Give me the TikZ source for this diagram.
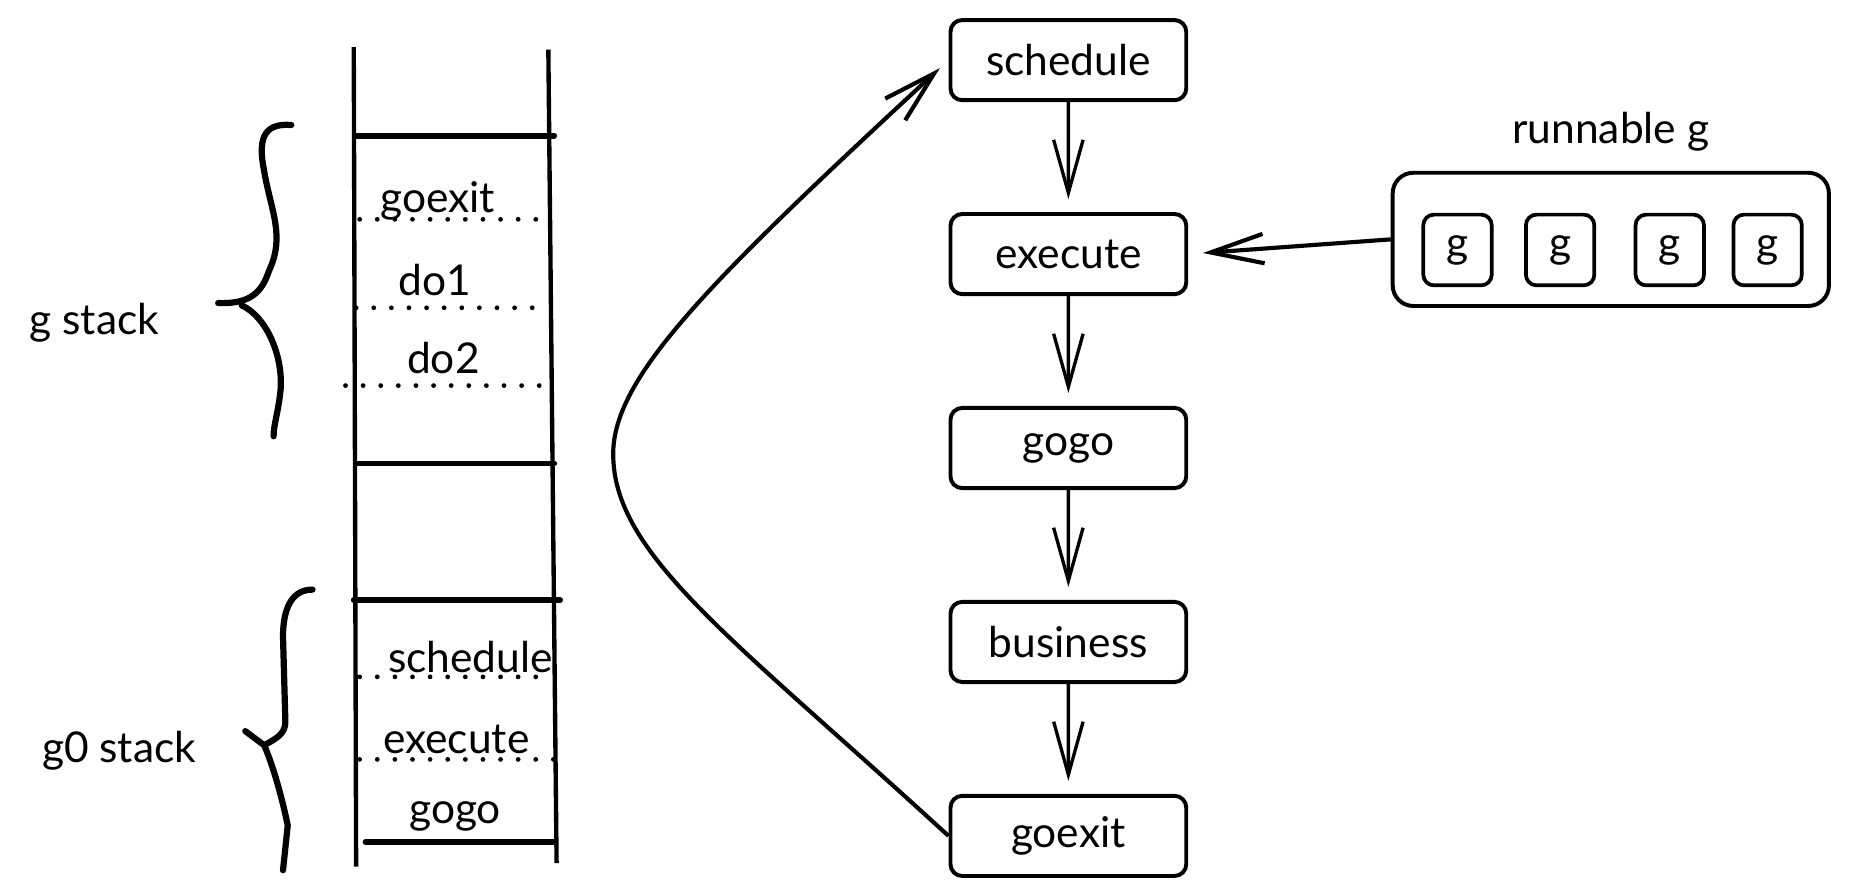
\documentclass[tikz,border=0pt]{standalone}
\usepackage{fontspec}
\setmainfont{Lato}
\usetikzlibrary{positioning, arrows.meta, trees}

\begin{document}
\begin{tikzpicture}[
          x=0.02cm, y=-0.02cm,
          every node/.style={font=\fontsize{20.5pt}{24pt}\selectfont},
          box/.style={draw, rounded corners=0.2cm, line width=1.9pt, minimum width=4cm, minimum height=1.36cm},
          gbox/.style={draw, rounded corners=0.18cm, line width=1.8pt, minimum width=1.16cm, minimum height=1.2cm},
          barb/.style={line width=1.6pt, -{Straight Barb[length=0.9cm, width=0.5cm]}},
          wall/.style={line width=2.1pt},
          frame/.style={line width=2.8pt, line cap=round},
          sep/.style={line width=2.3pt, line cap=round, dash pattern=on 0pt off 8.5pt},
          brace/.style={line width=3pt, line cap=round, line join=round},
          level distance=3.29cm,
          edge from parent/.style={draw, barb, shorten >=0.22cm},
          edge from parent path={(\tikzparentnode.south) -- (\tikzchildnode.north)}
        ]
        \useasboundingbox (0,0) rectangle (1568,759);

        % the stack
        \draw[wall] (300,40) -- (302,735);
        \draw[wall] (465,42) -- (472,732);
        \foreach \y/\a/\b in {115/302/470, 393/302/470, 509/300/475, 714/310/470}
          \draw[frame] (\a,\y) -- (\b,\y);
        \foreach \y/\a/\b in {186/305/462, 261/302/462, 327/293/462, 574/305/466, 644/305/483}
          \draw[sep] (\a,\y) -- (\b,\y);
        \node[anchor=base] (fgoexit) at (371,180) {goexit};
        \node[anchor=base] (fdo1) at (369,251) {do1};
        \node[anchor=base] (fdo2) at (376,317) {do2};
        \node[anchor=base] (fsched) at (399,570) {schedule};
        \node[anchor=base] (fexec) at (387,639) {execute};
        \node[anchor=base] (fgogo) at (386,698) {gogo};

        % braces
        \draw[brace] (247,106) .. controls (222,104) and (219,120) .. (224,145)
          .. controls (230,180) and (242,200) .. (228,230)
          .. controls (222,248) and (212,258) .. (185,257);
        \draw[brace] (205,259) .. controls (225,268) and (240,300) .. (238,330)
          .. controls (236,350) and (232,360) .. (232,370);
        \draw[brace] (265,500) .. controls (248,500) and (240,515) .. (240,540)
          -- (242,612) .. controls (242,622) and (235,626) .. (224,632);
        \draw[brace] (208,620) -- (224,632) .. controls (232,650) and (240,680) .. (244,700)
          -- (240,738);
        \node[anchor=base] (gstack) at (80,284) {g stack};
        \node[anchor=base] (g0stack) at (101,647) {g0 stack};

        % the loop
        \node[box] (sched) at (906,51) {schedule}
          child { node[box] (exec) {execute}
            child { node[box] (gogo) {gogo}
              child { node[box] (biz) {business}
                child { node[box] (exit) {goexit} }
              }
            }
          };
        \draw[barb, line width=2pt, shorten >=0.2cm] (exit.west) .. controls (620,540) and (520,470) .. (520,385)
          .. controls (520,320) and (600,240) .. (sched.west);

        % run queue
        \node[draw, rounded corners=0.35cm, line width=1.9pt, minimum width=7.4cm, minimum height=2.26cm] (queue) at (1366,203) {};
        \foreach \x/\n in {1236/1, 1323/2, 1416/3, 1499/4}
          \node[gbox] (g\n) at (\x,212) {g};
        \node[above=0.2cm of queue] (rlabel) {runnable g};
        \draw[barb, line width=2pt, shorten >=0.25cm] (queue.west) -- (exec.east);

        \end{tikzpicture}
\end{document}
